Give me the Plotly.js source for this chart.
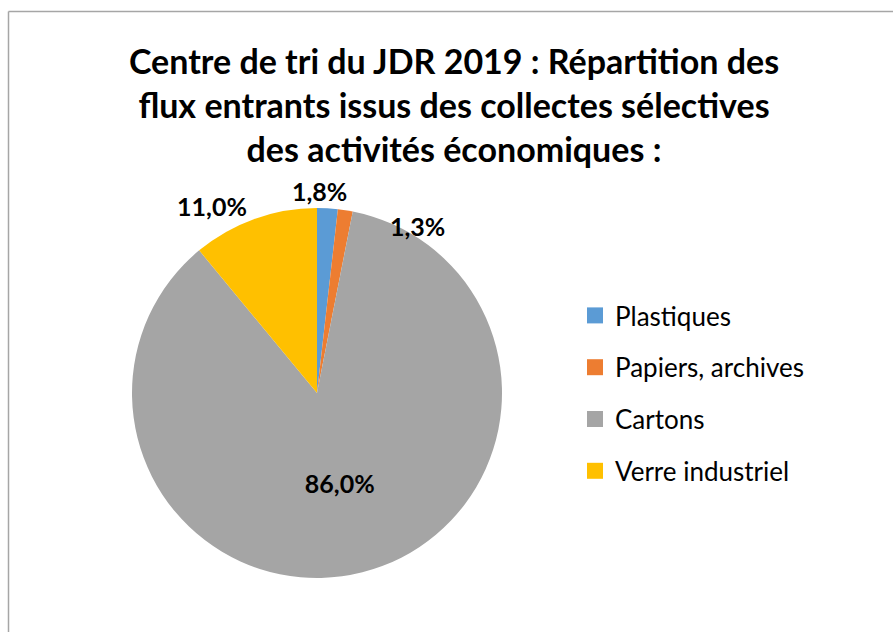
<!DOCTYPE html>
<html>
<head>
<meta charset="utf-8">
<script src="https://cdn.plot.ly/plotly-3.0.1.min.js"></script>
<style>
  html, body { margin: 0; padding: 0; background: #ffffff; }
  #chart { width: 893px; height: 632px; }
</style>
</head>
<body>
<div id="chart"></div>
<script>
const categories = ["Plastiques", "Papiers, archives", "Cartons", "Verre industriel"];
const values = [1.8, 1.3, 86.0, 11.0];
const colors = ["#5B9BD5", "#ED7D31", "#A5A5A5", "#FFC000"];
const titleText = "Centre de tri du JDR 2019 : Répartition des<br>flux entrants issus des collectes sélectives<br>des activités économiques :";

const W = 893, H = 632;
const cx = 317, cy = 393, r = 185;
const pieDomain = { x: [(cx - r) / W, (cx + r) / W], y: [(H - cy - r) / H, (H - cy + r) / H] };
const labelFont = { family: "Lato, sans-serif", size: 25, color: "#000000", weight: "bold" };

const fmt = v => v.toFixed(1).replace(".", ",") + "%";

const pie = {
  type: "pie",
  labels: categories,
  values: values,
  sort: false,
  direction: "clockwise",
  rotation: 0,
  marker: { colors: colors, line: { width: 0 } },
  texttemplate: "%{value:.1f}%",
  textposition: ["none", "none", "inside", "outside"],
  textfont: labelFont,
  insidetextfont: labelFont,
  outsidetextfont: labelFont,
  insidetextorientation: "horizontal",
  automargin: false,
  showlegend: false,
  hoverinfo: "label+percent",
  domain: pieDomain
};

// the two thin slices get their labels placed as in the original (above the top edge)
const smallLabels = [
  { text: fmt(values[0]), px: cx + 2, py: cy - r - 17 },
  { text: fmt(values[1]), px: cx + 100, py: cy - r + 18 }
];

const legendTraces = categories.map((c, i) => ({
  type: "scatter",
  mode: "markers",
  x: [null], y: [null],
  name: c,
  legendgroup: "g" + i,
  showlegend: true,
  marker: { symbol: "square", size: 16, color: colors[i] },
  hoverinfo: "skip"
}));

const layout = {
  width: W, height: H,
  margin: { l: 0, r: 0, t: 0, b: 0 },
  paper_bgcolor: "#ffffff",
  plot_bgcolor: "#ffffff",
  separators: ", ",
  font: { family: "Lato, sans-serif", color: "#000000" },
  title: {
    text: titleText,
    font: { family: "Lato, sans-serif", size: 34, color: "#000000", weight: "bold" },
    x: 454 / W, xanchor: "center",
    y: 1 - 74 / H, yanchor: "top", yref: "container", xref: "container"
  },
  xaxis: { visible: false },
  yaxis: { visible: false },
  showlegend: true,
  legend: {
    x: 575 / W, xanchor: "left",
    y: 1 - 292 / H, yanchor: "top",
    font: { family: "Lato, sans-serif", size: 26, color: "#000000" },
    tracegroupgap: 15,
    bgcolor: "rgba(0,0,0,0)",
    itemclick: false, itemdoubleclick: false
  },
  annotations: smallLabels.map(l => ({
    xref: "paper", yref: "paper",
    x: l.px / W, y: 1 - l.py / H,
    xanchor: "center", yanchor: "middle",
    text: l.text, showarrow: false,
    font: labelFont
  })),
  shapes: [
    { type: "line", xref: "paper", yref: "paper", x0: 8.5 / W, x1: 8.5 / W, y0: -0.05, y1: 1 - 11.5 / H, line: { color: "#A6A6A6", width: 1.5 } },
    { type: "line", xref: "paper", yref: "paper", x0: 8.5 / W, x1: 1.05, y0: 1 - 11.5 / H, y1: 1 - 11.5 / H, line: { color: "#A6A6A6", width: 1.5 } }
  ]
};

Plotly.newPlot("chart", [pie].concat(legendTraces), layout, { displayModeBar: false, staticPlot: true });
</script>
</body>
</html>
